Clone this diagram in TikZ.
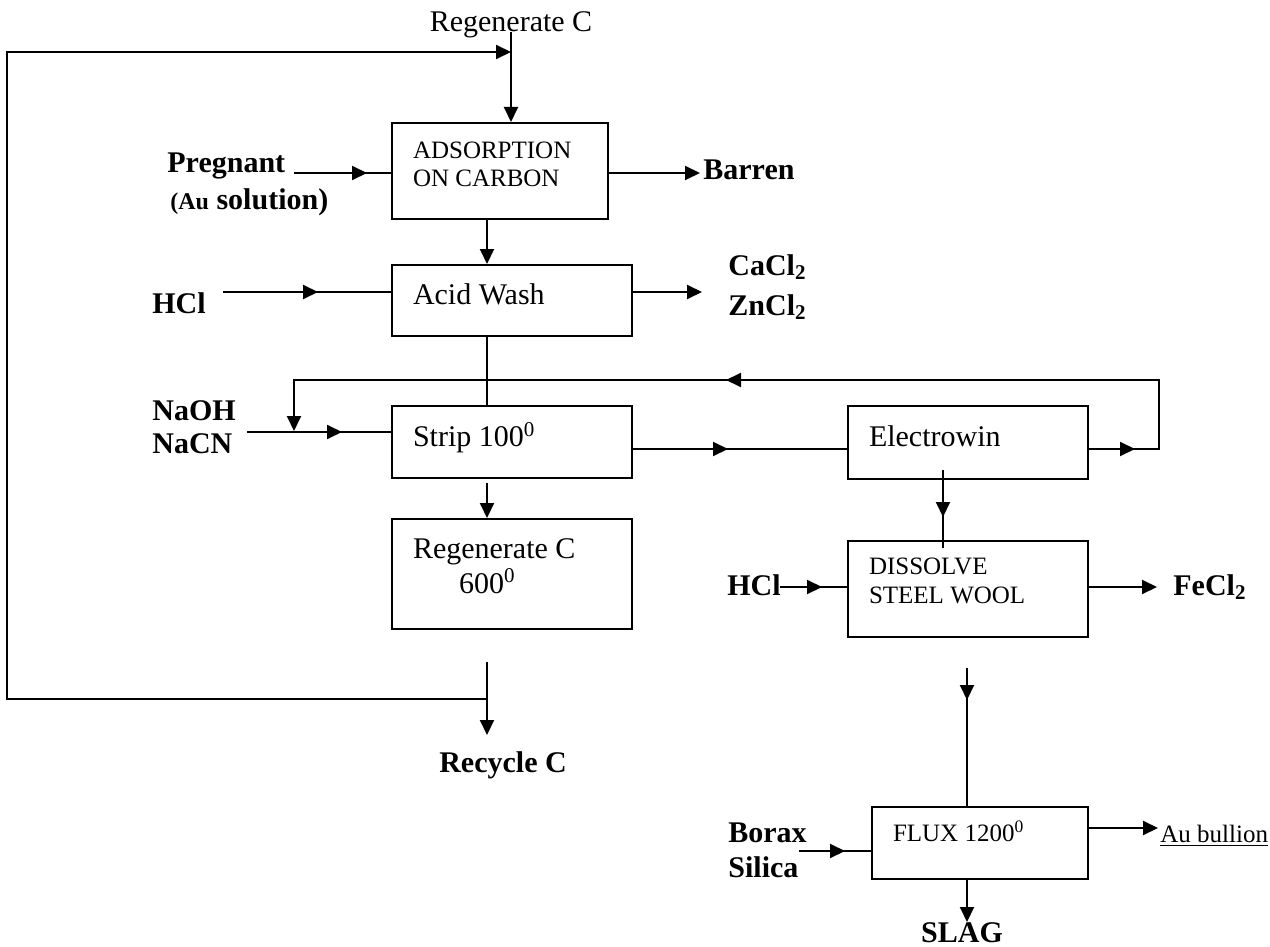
\documentclass[tikz,border=0pt]{standalone}
\usepackage{fontspec}
\setmainfont{Liberation Serif}
\usetikzlibrary{arrows.meta}
\usetikzlibrary{decorations.markings}

\newcommand{\capsfont}{\fontsize{12.5}{13.5}\selectfont}
\newcommand{\plainfont}{\fontsize{15}{17.5}\selectfont}

\tikzset{
    flowtip/.tip={Triangle[length=7.5pt, width=7pt]},
    flow/.style={line width=1pt},
    midarrow/.style={postaction={decorate, decoration={markings, mark=at position #1 with {\arrow{flowtip}}}}},
    stage/.style={draw, line width=1pt, anchor=north west, align=flush left, inner xsep=10.5pt, inner ysep=0pt, text width=99pt, text height=0pt, text depth=0pt, font=\plainfont},
    chem/.style={anchor=base west, inner sep=0pt, font=\plainfont\bfseries},
    plain/.style={anchor=base west, inner sep=0pt, font=\plainfont},
}

\begin{document}
\begin{tikzpicture}[x=0.5pt, y=-0.5pt]
    \useasboundingbox (0,0) rectangle (1270,947);
    % Stages
    \node[stage, text width=87pt, minimum height=48pt, text depth=12pt, font=\capsfont] (ads) at (391,122) {ADSORPTION\\ON CARBON};
    \node[stage, minimum height=35.5pt, text height=3.5pt] (acid) at (391,264) {Acid Wash};
    \node[stage, minimum height=36pt, text height=4.5pt] (strip) at (391,405) {Strip 100\textsuperscript{0}};
    \node[stage, minimum height=55pt, text depth=16pt] (regen) at (391,518) {Regenerate C\\\hspace*{23pt}600\textsuperscript{0}};
    \node[stage, minimum height=36.5pt, text height=3.5pt] (elec) at (847,405) {Electrowin};
    \node[stage, minimum height=48pt, text depth=15pt, font=\fontsize{12.5}{14.5}\selectfont] (diss) at (847,540) {DISSOLVE\\STEEL WOOL};
    \node[stage, text width=87pt, minimum height=36pt, text depth=2pt, font=\capsfont] (flux) at (871,806) {FLUX 1200\textsuperscript{0}};

    % Streams in and out
    \node[plain, anchor=base] (regtop) at (511,32) {Regenerate C};
    \node[chem] (pregnant) at (167,173) {Pregnant};
    \node[chem] (ausol) at (170,210) {{\fontsize{12}{14}\selectfont(Au} solution)};
    \node[chem] (barren) at (703,180) {Barren};
    \node[chem] (hcl) at (152,313) {HCl};
    \node[chem] (naoh) at (152,420) {NaOH};
    \node[chem] (nacn) at (152,453) {NaCN};
    \node[chem] (cacl) at (728,275) {CaCl\textsubscript{2}};
    \node[chem] (zncl) at (728,315) {ZnCl\textsubscript{2}};
    \node[chem, anchor=base] (recycle) at (503,772) {Recycle C};
    \node[chem] (hclb) at (727,595) {HCl};
    \node[chem] (fecl) at (1173,595) {FeCl\textsubscript{2}};
    \node[chem] (borax) at (728,842) {Borax};
    \node[chem] (silica) at (728,877) {Silica};
    \node[plain, font=\capsfont] (bullion) at (1160,842) {\underline{Au bullion}};
    \node[chem, anchor=base] (slag) at (962,942) {SLAG};

    % Carbon loop
    \coordinate (recyclein) at (487,699);
    \coordinate (loopbl) at (7,699);
    \coordinate (looptl) at (7,52);
    \draw[flow, -{flowtip}] (recyclein) -- (loopbl) -- (looptl) -- (regtop.base |- looptl);
    \draw[flow, -{flowtip}] (regtop.base) -- (regtop.base |- ads.north);

    % Carbon column
    \coordinate (stripout) at (487,483);
    \coordinate (regenout) at (487,662);
    \coordinate (recycleend) at (487,735);
    \draw[flow, -{flowtip}] (ads.south -| stripout) -- (acid.north -| stripout);
    \draw[flow] (acid.south -| stripout) -- (strip.north -| stripout);
    \draw[flow, -{flowtip}] (stripout) -- (regen.north -| stripout);
    \draw[flow, -{flowtip}] (regenout) -- (recycleend);

    % Feeds
    \coordinate (pregin) at (294,173);
    \coordinate (hclin) at (223,292);
    \coordinate (naohin) at (247,432);
    \coordinate (barrenend) at (700,173);
    \coordinate (chlorend) at (702,292);
    \draw[flow, midarrow=36.5pt] (pregin) -- (pregin -| ads.west);
    \draw[flow, -{flowtip}] (pregin -| ads.east) -- (barrenend);
    \draw[flow, midarrow=47.5pt] (hclin) -- (hclin -| acid.west);
    \draw[flow, -{flowtip}] (hclin -| acid.east) -- (chlorend);
    \draw[flow, midarrow=47.5pt] (naohin) -- (naohin -| strip.west);

    % Electrowinning circuit
    \coordinate (eloop) at (1159,449);
    \coordinate (elooptop) at (1159,380);
    \coordinate (feedjoin) at (294,380);
    \coordinate (feedend) at (294,431);
    \draw[flow, midarrow=47.5pt] (strip.east |- eloop) -- (elec.west |- eloop);
    \draw[flow, midarrow=23pt, midarrow=286pt, -{flowtip}] (elec.east |- eloop) -- (eloop) -- (elooptop) -- (feedjoin) -- (feedend);

    % Gold recovery
    \coordinate (ewout) at (943,470);
    \coordinate (dissin) at (943,548);
    \coordinate (hclbin) at (780,587);
    \coordinate (feclend) at (1157,587);
    \draw[flow, midarrow=23.5pt] (ewout) -- (dissin);
    \draw[flow, midarrow=21pt] (hclbin) -- (hclbin -| diss.west);
    \draw[flow, -{flowtip}] (hclbin -| diss.east) -- (feclend);

    % Smelting
    \coordinate (fluxin) at (967,668);
    \coordinate (boraxin) at (799,851);
    \coordinate (bullionend) at (1158,828);
    \coordinate (slagend) at (967,922);
    \draw[flow, midarrow=16pt] (fluxin) -- (fluxin |- flux.north);
    \draw[flow, midarrow=23pt] (boraxin) -- (boraxin -| flux.west);
    \draw[flow, -{flowtip}] (bullionend -| flux.east) -- (bullionend);
    \draw[flow, -{flowtip}] (flux.south -| slagend) -- (slagend);
\end{tikzpicture}
\end{document}
